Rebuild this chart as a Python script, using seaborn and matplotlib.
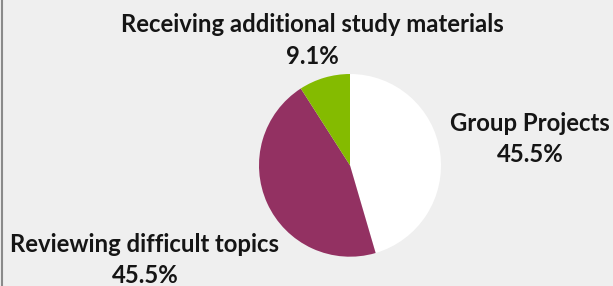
import matplotlib
matplotlib.use("Agg")
import matplotlib.pyplot as plt
import seaborn as sns
from matplotlib.lines import Line2D

# share of answers per activity
activities = ["Group Projects", "Reviewing difficult topics", "Receiving additional study materials"]
counts = [5, 5, 1]
slice_colors = ["#ffffff", "#933162", "#84bb00"]

bg = "#efefef"
sns.set_style("white", {"axes.facecolor": bg, "figure.facecolor": bg})
plt.rcParams["font.family"] = ["Lato", "DejaVu Sans"]

fig = plt.figure(figsize=(6.13, 2.86), dpi=100)
W, H = 613, 286
# pie sits in an axes box, radius 1 fills it
ax = fig.add_axes([259 / W, (H - 256.7) / H, 182 / W, 182.7 / H])

total = sum(counts)
labels = [f"{a}\n{c / total * 100:.1f}%" for a, c in zip(activities, counts)]
wedges, texts = ax.pie(counts, labels=labels, colors=slice_colors, startangle=90,
                       counterclock=False, radius=1,
                       wedgeprops={"linewidth": 0},
                       textprops={"fontsize": 17.2, "fontweight": "bold", "color": "#151515"})
ax.set_xlim(-1, 1)
ax.set_ylim(-1, 1)
ax.set_aspect("auto")
ax.axis("off")

# label spots in pixels (x, y from top)
label_spots = [(530, 139), (145, 260), (312, 40.5)]
for t, (px, py) in zip(texts, label_spots):
    t.set_transform(fig.transFigure)
    t.set_position((px / W, (H - py) / H))
    t.set_ha("center")
    t.set_va("center")
    t.set_multialignment("center")
    t.set_linespacing(1.45)

# thin grey edge on the left
fig.add_artist(Line2D([2 / W, 2 / W], [0, 1], color="#8a8a8a", linewidth=1.5,
                      transform=fig.transFigure))

fig.savefig("out.png", dpi=100, facecolor=bg)
